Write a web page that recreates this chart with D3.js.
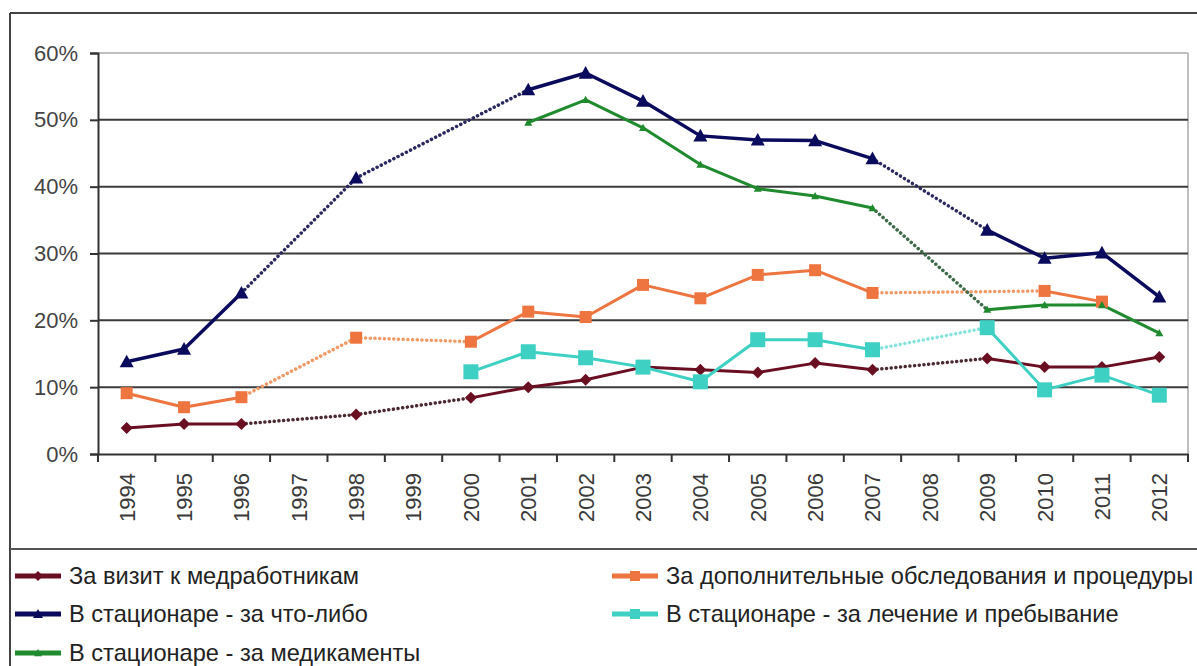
<!DOCTYPE html>
<html>
<head>
<meta charset="utf-8">
<script src="https://cdn.jsdelivr.net/npm/d3@7/dist/d3.min.js"></script>
<style>
  html, body { margin: 0; padding: 0; background: #fff; }
  svg { display: block; }
  text { font-family: "Liberation Sans", Arial, sans-serif; }
</style>
</head>
<body>
<svg id="chart" width="1197" height="666"></svg>
<script>
// Years on the horizontal axis
const years = [1994, 1995, 1996, 1997, 1998, 1999, 2000, 2001, 2002, 2003,
               2004, 2005, 2006, 2007, 2008, 2009, 2010, 2011, 2012];

// Share of respondents, % (null = no survey that year)
const visitStaff   = [3.9, 4.5, 4.5, null, 5.9, null, 8.4, 10.0, 11.1, 13.0,
                      12.6, 12.2, 13.6, 12.6, null, 14.3, 13.0, 13.0, 14.5];
const extraTests   = [9.1, 7.0, 8.5, null, 17.4, null, 16.8, 21.3, 20.5, 25.3,
                      23.3, 26.8, 27.5, 24.1, null, null, 24.4, 22.8, null];
const hospAny      = [13.8, 15.7, 24.1, null, 41.3, null, null, 54.5, 57.0, 52.8,
                      47.6, 47.0, 46.9, 44.2, null, 33.5, 29.3, 30.1, 23.5];
const hospTreat    = [null, null, null, null, null, null, 12.3, 15.3, 14.4, 13.0,
                      10.8, 17.1, 17.1, 15.6, null, 18.9, 9.6, 11.8, 8.8];
const hospDrugs    = [null, null, null, null, null, null, null, 49.6, 53.0, 48.8,
                      43.3, 39.7, 38.6, 36.8, null, 21.6, 22.3, 22.3, 18.1];

const yTicks = [0, 10, 20, 30, 40, 50, 60];

const series = [
  { name: "За визит к медработникам", values: visitStaff, color: "#6a0f22", dot: "#4a2a30", marker: "diamond", size: 12, width: 3, col: 0, row: 0 },
  { name: "За дополнительные обследования и процедуры", values: extraTests, color: "#ee7540", dot: "#f09a68", marker: "square", size: 12, width: 3, col: 1, row: 0 },
  { name: "В стационаре - за что-либо", values: hospAny, color: "#0b0b5e", dot: "#2a2a60", marker: "triangle", size: 14, width: 3.5, col: 0, row: 1 },
  { name: "В стационаре - за лечение и пребывание", values: hospTreat, color: "#3fd0c4", dot: "#86e4dc", marker: "square", size: 15, width: 3, col: 1, row: 1 },
  { name: "В стационаре - за медикаменты", values: hospDrugs, color: "#1f8a2e", dot: "#3f6a4a", marker: "smalltri", size: 8, width: 3, col: 0, row: 2 }
];

const svg = d3.select("#chart");
const plotLeft = 98, plotRight = 1188, plotTop = 53, plotBottom = 454;

const x = d3.scaleBand().domain(years).range([plotLeft, plotRight]).paddingInner(0).paddingOuter(0);
const cx = d => x(d) + x.bandwidth() / 2;
const y = d3.scaleLinear().domain([0, 60]).range([plotBottom, plotTop]);

// Outer frame and legend separator
svg.append("line").attr("x1", 10).attr("x2", 1197).attr("y1", 13).attr("y2", 13)
  .attr("stroke", "#444").attr("stroke-width", 2);
svg.append("line").attr("x1", 10).attr("x2", 10).attr("y1", 13).attr("y2", 666)
  .attr("stroke", "#444").attr("stroke-width", 2);
svg.append("line").attr("x1", 10).attr("x2", 1197).attr("y1", 549).attr("y2", 549)
  .attr("stroke", "#555").attr("stroke-width", 2);

// Plot area border (top and right)
svg.append("line").attr("x1", plotLeft).attr("x2", plotRight).attr("y1", y(60)).attr("y2", y(60))
  .attr("stroke", "#aaa").attr("stroke-width", 1.5);
svg.append("line").attr("x1", plotRight).attr("x2", plotRight).attr("y1", y(60)).attr("y2", y(0))
  .attr("stroke", "#aaa").attr("stroke-width", 1.5);

// Horizontal gridlines
svg.append("g").selectAll("line").data(yTicks.filter(t => t > 0 && t < 60)).join("line")
  .attr("x1", plotLeft).attr("x2", plotRight)
  .attr("y1", d => y(d)).attr("y2", d => y(d))
  .attr("stroke", "#3a3a3a").attr("stroke-width", 2);

// Y axis
const yAxis = svg.append("g").attr("transform", `translate(${plotLeft},0)`)
  .call(d3.axisLeft(y).tickValues(yTicks).tickFormat(d => d + "%").tickSize(8).tickPadding(12));
yAxis.select(".domain").attr("stroke", "#333").attr("stroke-width", 2);
yAxis.selectAll(".tick line").attr("stroke", "#333").attr("stroke-width", 2);
yAxis.selectAll("text").attr("font-size", 22).attr("fill", "#444")
  .attr("font-family", "Liberation Sans, Arial, sans-serif");

// X axis: labels at category centers, ticks at category boundaries
const xAxis = svg.append("g").attr("transform", `translate(0,${plotBottom})`)
  .call(d3.axisBottom(x).tickSize(0).tickSizeOuter(0));
xAxis.select(".domain").attr("stroke", "#333").attr("stroke-width", 2);
xAxis.selectAll("text")
  .attr("font-size", 22).attr("fill", "#3a3a3a")
  .attr("font-family", "Liberation Sans, Arial, sans-serif")
  .attr("transform", "rotate(-90)")
  .attr("x", -19).attr("y", 0).attr("dy", "0.36em")
  .attr("text-anchor", "end");
const bounds = years.map(d => x(d)).concat([plotRight]);
xAxis.append("g").selectAll("line").data(bounds).join("line")
  .attr("x1", d => d).attr("x2", d => d).attr("y1", 0).attr("y2", 8)
  .attr("stroke", "#333").attr("stroke-width", 2);

// Marker shapes
function markerPath(type, s) {
  const h = s / 2;
  if (type === "diamond") return `M0,${-h}L${h},0L0,${h}L${-h},0Z`;
  if (type === "square") return `M${-h},${-h}H${h}V${h}H${-h}Z`;
  // triangles
  return `M0,${-h}L${h},${h * 0.8}L${-h},${h * 0.8}Z`;
}

// Lines: solid between adjacent years, dotted across missing years
const plot = svg.append("g");
series.forEach(s => {
  const pts = years.map((yr, i) => ({ yr, i, v: s.values[i] })).filter(p => p.v !== null);
  const segs = d3.pairs(pts);
  plot.append("g").selectAll("line").data(segs).join("line")
    .attr("x1", d => cx(d[0].yr)).attr("y1", d => y(d[0].v))
    .attr("x2", d => cx(d[1].yr)).attr("y2", d => y(d[1].v))
    .attr("stroke", d => (d[1].i - d[0].i > 1) ? s.dot : s.color)
    .attr("stroke-width", d => (d[1].i - d[0].i > 1) ? 3.5 : s.width)
    .attr("stroke-linecap", "round")
    .attr("stroke-dasharray", d => (d[1].i - d[0].i > 1) ? "0.1,4.6" : null);
  s.pts = pts;
});
series.forEach(s => {
  plot.append("g").selectAll("path").data(s.pts).join("path")
    .attr("transform", d => `translate(${cx(d.yr)},${y(d.v)})`)
    .attr("d", markerPath(s.marker, s.size))
    .attr("fill", s.color);
});

// Legend
const legend = svg.append("g");
const colX = [15, 612], rowY = [576, 614, 653];
series.forEach(s => {
  const g = legend.append("g").attr("transform", `translate(${colX[s.col]},${rowY[s.row]})`);
  g.append("line").attr("x1", 0).attr("x2", 46).attr("y1", 0).attr("y2", 0)
    .attr("stroke", s.color).attr("stroke-width", 5);
  g.append("path").attr("transform", "translate(23,0)")
    .attr("d", markerPath(s.marker, Math.min(s.size, 10)))
    .attr("fill", s.color);
  g.append("text").attr("x", 54).attr("y", 0).attr("dy", "0.35em")
    .attr("font-size", 23.6).attr("fill", "#222")
    .text(s.name);
});
</script>
</body>
</html>
